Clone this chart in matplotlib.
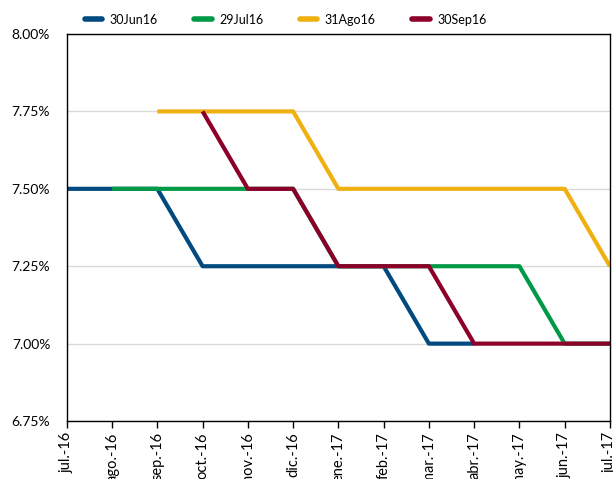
import numpy as np
import matplotlib
matplotlib.use('Agg')
import matplotlib.pyplot as plt
from matplotlib.lines import Line2D

plt.rcParams['font.family'] = ['Lato', 'DejaVu Sans']

meses = ['jul.-16', 'ago.-16', 'sep.-16', 'oct.-16', 'nov.-16', 'dic.-16', 'ene.-17',
         'feb.-17', 'mar.-17', 'abr.-17', 'may.-17', 'jun.-17', 'jul.-17']
nan = np.nan
jun16 = [7.50, 7.50, 7.50, 7.25, 7.25, 7.25, 7.25, 7.25, 7.00, 7.00, nan, nan, nan]
jul16 = [nan, 7.50, 7.50, 7.50, 7.50, 7.50, 7.25, 7.25, 7.25, 7.25, 7.25, 7.00, 7.00]
ago16 = [nan, nan, 7.75, 7.75, 7.75, 7.75, 7.50, 7.50, 7.50, 7.50, 7.50, 7.50, 7.25]
sep16 = [nan, nan, nan, 7.75, 7.50, 7.50, 7.25, 7.25, 7.25, 7.00, 7.00, 7.00, 7.00]

series = [('30Jun16', jun16, '#004A7F'),
          ('29Jul16', jul16, '#009A46'),
          ('31Ago16', ago16, '#EEB111'),
          ('30Sep16', sep16, '#8C0029')]

fig = plt.figure(figsize=(6.13, 4.79), dpi=100)
ax = fig.add_axes([0.109, 0.121, 0.886, 0.808])

x = np.arange(len(meses))
handles = []
for nombre, valores, color in series:
    ax.plot(x, valores, color=color, linewidth=3, solid_capstyle='butt')
    handles.append(Line2D([], [], color=color, linewidth=4, solid_capstyle='round', label=nombre))

ax.set_xlim(0, len(meses) - 1)
ax.set_ylim(6.75, 8.00)
yt = [6.75, 7.00, 7.25, 7.50, 7.75, 8.00]
ax.set_yticks(yt)
ax.set_yticklabels(['%.2f%%' % v for v in yt], fontsize=10)
ax.set_xticks(x)
ax.set_xticklabels(meses, rotation=90, fontsize=10.5)
ax.tick_params(axis='y', length=0, pad=12)
ax.tick_params(axis='x', length=5, width=1, direction='out', pad=3)
ax.grid(axis='y', color='#D9D9D9', linewidth=1)
ax.set_axisbelow(True)
for s in ax.spines.values():
    s.set_color('black')
    s.set_linewidth(1)

fig.legend(handles=handles, loc='upper center', bbox_to_anchor=(0.466, 0.995), ncol=4,
           frameon=False, fontsize=9, handlelength=1.4, columnspacing=2.9,
           handletextpad=0.6)

fig.savefig('out.png', dpi=100)
